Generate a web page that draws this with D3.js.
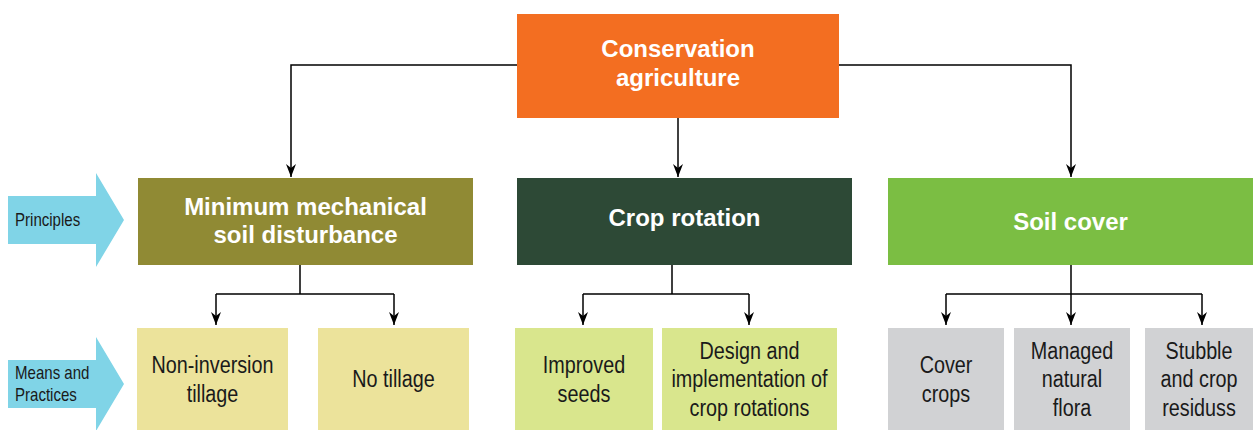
<!DOCTYPE html>
<html>
<head>
<meta charset="utf-8">
<script src="https://cdn.jsdelivr.net/npm/d3@7"></script>
<style>
  html, body { margin: 0; padding: 0; background: #fff; }
  svg { display: block; }
  .bold { font-family: "Liberation Sans", Arial, sans-serif; font-weight: bold; fill: #fff; }
  .narrow { font-family: "Liberation Sans", Arial, sans-serif; fill: #1a1a1a; }
</style>
</head>
<body>
<div id="container"></div>
<script>
// labels of the diagram
var rootLabel = ["Conservation", "agriculture"];
var principles = [
  ["Minimum mechanical", "soil disturbance"],
  ["Crop rotation"],
  ["Soil cover"]
];
var practices = [
  [["Non-inversion", "tillage"], ["No tillage"]],
  [["Improved", "seeds"], ["Design and", "implementation of", "crop rotations"]],
  [["Cover", "crops"], ["Managed", "natural", "flora"], ["Stubble", "and crop", "residuss"]]
];
var sideLabels = [["Principles"], ["Means and", "Practices"]];

// layout (pixels)
var W = 1253, H = 430;
var rootBox = {x0: 517, x1: 839, y0: 14, y1: 118};
var rootLineY = 65;
var topDrops = [291, 678, 1071];
var princBoxes = [[138, 473], [517, 852], [888, 1253]];
var princY = [178, 265];
var princTextY = [220, 217.5, 221.5];
var princStem = [300, 672, 1071];
var branchY = 294;
var pracBoxes = [
  [[137, 288], [318, 469]],
  [[515, 653], [662, 837]],
  [[888, 1004], [1014, 1130], [1145, 1253]]
];
var pracBranch = [[216, 394], [583, 749], [946, 1071, 1202]];
var pracY = [328, 432];
var sideArrowY = [220, 384];
var squeeze = 0.86; // condensed look of the small labels

var rootColor = "#f36e21";
var princColors = ["#908a34", "#2d4936", "#7bbe43"];
var pracColors = ["#ece39b", "#d9e68d", "#d1d2d4"];
var arrowColor = "#80d4e7";

var svg = d3.select("#container").append("svg")
  .attr("width", W).attr("height", H);

svg.append("defs").append("marker")
  .attr("id", "head")
  .attr("viewBox", "0 0 10 13")
  .attr("refX", 5).attr("refY", 13)
  .attr("markerWidth", 10).attr("markerHeight", 13)
  .attr("markerUnits", "userSpaceOnUse")
  .attr("orient", "0")
  .append("path")
  .attr("d", "M0,0 L5,4 L10,0 L5,13 Z")
  .attr("fill", "#000");

// draw multi-line centred text, sx squeezes it horizontally
function label(g, lines, cx, cy, size, lh, cls, sx) {
  sx = sx || 1;
  var first = cy - (lines.length - 1) * lh / 2 + size * 0.36;
  g.append("text")
    .attr("class", cls)
    .attr("text-anchor", "middle")
    .attr("font-size", size)
    .attr("transform", "scale(" + sx + ",1)")
    .selectAll("tspan")
    .data(lines)
    .join("tspan")
    .attr("x", cx / sx)
    .attr("y", function(d, i) { return first + i * lh; })
    .text(function(d) { return d; });
}

var lines = svg.append("g")
  .attr("fill", "none")
  .attr("stroke", "#000")
  .attr("stroke-width", 1.5);

// root to principles
lines.append("path")
  .attr("d", "M" + rootBox.x0 + "," + rootLineY + " H" + topDrops[0] + " V" + (princY[0] - 1))
  .attr("marker-end", "url(#head)");
lines.append("path")
  .attr("d", "M" + rootBox.x1 + "," + rootLineY + " H" + topDrops[2] + " V" + (princY[0] - 1))
  .attr("marker-end", "url(#head)");
lines.append("path")
  .attr("d", "M" + topDrops[1] + "," + rootBox.y1 + " V" + (princY[0] - 1))
  .attr("marker-end", "url(#head)");

// principles to practices
princStem.forEach(function(sx, i) {
  var br = pracBranch[i];
  lines.append("path")
    .attr("d", "M" + sx + "," + princY[1] + " V" + branchY + " M" + br[0] + "," + branchY + " H" + br[br.length - 1]);
  br.forEach(function(bx) {
    lines.append("path")
      .attr("d", "M" + bx + "," + branchY + " V" + (pracY[0] - 3))
      .attr("marker-end", "url(#head)");
  });
});

// root box
var root = svg.append("g");
root.append("rect")
  .attr("x", rootBox.x0).attr("y", rootBox.y0)
  .attr("width", rootBox.x1 - rootBox.x0).attr("height", rootBox.y1 - rootBox.y0)
  .attr("fill", rootColor);
label(root, rootLabel, (rootBox.x0 + rootBox.x1) / 2, 63, 24, 29, "bold");

// principle boxes
var pg = svg.append("g").selectAll("g")
  .data(principles)
  .join("g");
pg.append("rect")
  .attr("x", function(d, i) { return princBoxes[i][0]; })
  .attr("y", princY[0])
  .attr("width", function(d, i) { return princBoxes[i][1] - princBoxes[i][0]; })
  .attr("height", princY[1] - princY[0])
  .attr("fill", function(d, i) { return princColors[i]; });
pg.each(function(d, i) {
  var cx = (princBoxes[i][0] + princBoxes[i][1]) / 2;
  label(d3.select(this), d, cx, princTextY[i], 24, 28, "bold");
});

// practice boxes
practices.forEach(function(group, i) {
  group.forEach(function(lab, j) {
    var b = pracBoxes[i][j];
    var g = svg.append("g");
    g.append("rect")
      .attr("x", b[0]).attr("y", pracY[0])
      .attr("width", b[1] - b[0]).attr("height", pracY[1] - pracY[0])
      .attr("fill", pracColors[i]);
    label(g, lab, (b[0] + b[1]) / 2, 379, 23, 28.5, "narrow", squeeze);
  });
});

// side arrows
sideLabels.forEach(function(lab, i) {
  var cy = sideArrowY[i];
  var g = svg.append("g");
  g.append("path")
    .attr("d", "M8," + (cy - 24) + " H96 V" + (cy - 47) + " L124," + cy +
      " L96," + (cy + 47) + " V" + (cy + 24) + " H8 Z")
    .attr("fill", arrowColor);
  var first = cy - (lab.length - 1) * 11 + 6;
  g.append("text")
    .attr("class", "narrow")
    .attr("font-size", 17.5)
    .attr("transform", "scale(" + squeeze + ",1)")
    .selectAll("tspan")
    .data(lab)
    .join("tspan")
    .attr("x", 15 / squeeze)
    .attr("y", function(d, k) { return first + k * 22; })
    .text(function(d) { return d; });
});
</script>
</body>
</html>
